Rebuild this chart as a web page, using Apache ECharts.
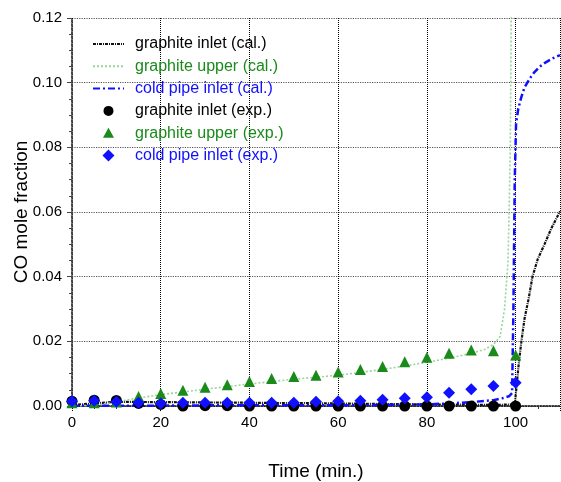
<!DOCTYPE html>
<html><head><meta charset="utf-8">
<script src="https://cdn.jsdelivr.net/npm/echarts@6/dist/echarts.min.js"></script>
<style>html,body{margin:0;padding:0;background:#fff}#c{width:561px;height:482px}</style>
</head><body><div id="c"></div>
<script>
// ---- data ----
const seriesNames = ['graphite inlet (cal.)','graphite upper (cal.)','cold pipe inlet (cal.)','graphite inlet (exp.)','graphite upper (exp.)','cold pipe inlet (exp.)'];
const xTicks = [0,20,40,60,80,100];
const yTicks = [0,0.02,0.04,0.06,0.08,0.10,0.12];

const inletCalX = [0,5,10,20,30,40,50,60,70,80,90,95,99.8,100.2,100.7,101.3,102,102.9,103.8,105,106.5,108,110];
const inletCalY = [0.0003,0.0008,0.0013,0.0012,0.0011,0.001,0.0009,0.0008,0.0006,0.0005,0.0004,0.0003,0.0005,0.006,0.013,0.02,0.027,0.033,0.04,0.0455,0.05,0.0548,0.0602];

const upperCalX = [0,5,8,10,15,20,30,40,50,60,70,80,85,90,93,95,96.5,97.5,98.3,98.8,99,110];
const upperCalY = [0,0.0002,0.0008,0.0013,0.0025,0.0035,0.0052,0.0068,0.0083,0.0095,0.0113,0.0135,0.0148,0.0163,0.0175,0.019,0.0215,0.03,0.045,0.08,0.1205,0.1205];

const pipeCalX = [0,10,20,30,40,50,60,70,80,85,90,95,97,98.5,99.2,99.5,99.8,100.1,100.6,101.3,102,103.2,104.2,105.4,106.8,108.3,110];
const pipeCalY = [0.0001,0.0001,0.0001,0.0002,0.0002,0.0002,0.0002,0.0003,0.0005,0.0008,0.0012,0.0018,0.0024,0.003,0.004,0.03,0.07,0.0875,0.092,0.0956,0.0985,0.1013,0.1032,0.1049,0.1063,0.1075,0.1085];

const expX = [0,5,10,15,20,25,30,35,40,45,50,55,60,65,70,75,80,85,90,95,100];
const inletExp = [0.0015,0.0018,0.0017,0.0008,0.0005,0,0.0001,0.0001,0,0,0,0,0,0,0,0,0,0,0,0,0];
const upperExp = [0.001,0.001,0.0012,0.0029,0.0039,0.0049,0.0058,0.0066,0.0076,0.0085,0.0091,0.0095,0.0105,0.0113,0.0122,0.0137,0.0151,0.0163,0.0173,0.0171,0.0158];
const pipeExp = [0.0015,0.0016,0.0013,0.001,0.0008,0.001,0.001,0.001,0.001,0.001,0.001,0.0013,0.0015,0.0016,0.0019,0.0024,0.0027,0.0041,0.0052,0.0062,0.0072];

// ---- build ----
const zip = (xs, ys) => xs.map((x, i) => [x, ys[i]]);
const GREEN = '#1a8a1a', BLUE = '#1010ff', LGREEN = '#9ad49a';
const font = 'Liberation Sans, Arial, sans-serif';
// legend marker icons inside a 31x14 box (tiny corner segments fix the box)
const box = ' M0,0 L0.01,0 M31,14 L31.01,14';
const icoCircle = 'path://M20.5,7 A5,5 0 1 1 10.5,7 A5,5 0 1 1 20.5,7 Z' + box;
const icoTri = 'path://M15.5,1.5 L21,11.5 L10,11.5 Z' + box;
const icoDia = 'path://M15.5,1 L21.5,7 L15.5,13 L9.5,7 Z' + box;
const hideSym = {color: 'rgba(0,0,0,0)', borderWidth: 0, opacity: 0};

const chart = echarts.init(document.getElementById('c'), null, {renderer: 'canvas'});
chart.setOption({
  animation: false,
  grid: {left: 72, right: 1, top: 18, bottom: 76, outerBoundsMode: 'none', containLabel: false},
  legend: {
    orient: 'vertical', left: 87, top: 31, itemWidth: 31, itemHeight: 14, itemGap: 6.3,
    textStyle: {fontFamily: font, fontSize: 16, padding: [0, 0, 0, 6]},
    data: [
      {name: seriesNames[0], textStyle: {color: '#000'}, itemStyle: hideSym},
      {name: seriesNames[1], textStyle: {color: GREEN}, itemStyle: hideSym},
      {name: seriesNames[2], textStyle: {color: BLUE}, itemStyle: hideSym},
      {name: seriesNames[3], textStyle: {color: '#000'}, icon: icoCircle},
      {name: seriesNames[4], textStyle: {color: GREEN}, icon: icoTri},
      {name: seriesNames[5], textStyle: {color: BLUE}, icon: icoDia}
    ]
  },
  xAxis: {
    type: 'value', min: 0, max: 110, interval: 20,
    name: 'Time (min.)', nameLocation: 'middle', nameGap: 56, nameMoveOverlap: false,
    nameTextStyle: {fontFamily: font, fontSize: 19, color: '#000'},
    axisLine: {show: true, onZero: false, lineStyle: {color: '#000', width: 1.5, type: 'dotted'}},
    axisTick: {show: true, length: 6, lineStyle: {color: '#000', type: 'dotted'}},
    minorTick: {show: true, splitNumber: 4, length: 3, lineStyle: {color: '#333'}},
    axisLabel: {fontFamily: font, fontSize: 15, color: '#000', margin: 9, showMaxLabel: false},
    splitLine: {show: true, lineStyle: {color: '#000', width: 1, type: 'dotted'}}
  },
  yAxis: {
    type: 'value', min: 0, max: 0.12, interval: 0.02,
    name: 'CO mole fraction', nameLocation: 'middle', nameGap: 41, nameMoveOverlap: false,
    nameTextStyle: {fontFamily: font, fontSize: 19, color: '#000'},
    axisLine: {show: true, lineStyle: {color: '#444', width: 2, type: 'dotted'}},
    axisTick: {show: true, length: 5, lineStyle: {color: '#444'}},
    minorTick: {show: true, splitNumber: 4, length: 3, lineStyle: {color: '#444'}},
    axisLabel: {fontFamily: font, fontSize: 15, color: '#000', margin: 10, formatter: v => v.toFixed(2)},
    splitLine: {show: true, lineStyle: {color: '#555', width: 1.2, type: 'dotted'}}
  },
  series: [
    {name: seriesNames[0], type: 'line', data: zip(inletCalX, inletCalY), showSymbol: false, symbol: 'none', clip: true,
     lineStyle: {color: '#111', width: 2.2, type: [3, 1, 1, 1]}, itemStyle: {color: '#111'}, z: 2},
    {name: seriesNames[1], type: 'line', data: zip(upperCalX, upperCalY), showSymbol: false, symbol: 'none', clip: true,
     lineStyle: {color: LGREEN, width: 1.6, type: [2, 2]}, itemStyle: {color: LGREEN}, z: 2},
    {name: seriesNames[2], type: 'line', data: zip(pipeCalX, pipeCalY), showSymbol: false, symbol: 'none', clip: true,
     lineStyle: {color: BLUE, width: 2.5, type: [7, 3, 2, 3]}, itemStyle: {color: BLUE}, z: 2},
    {name: seriesNames[3], type: 'scatter', data: zip(expX, inletExp), symbol: 'circle', symbolSize: 11,
     itemStyle: {color: '#000', opacity: 1}, z: 3},
    {name: seriesNames[4], type: 'scatter', data: zip(expX, upperExp), symbol: 'triangle', symbolSize: 11,
     itemStyle: {color: GREEN, opacity: 1}, z: 3},
    {name: seriesNames[5], type: 'scatter', data: zip(expX, pipeExp), symbol: 'diamond', symbolSize: 12,
     itemStyle: {color: BLUE, opacity: 1}, z: 4}
  ]
});
</script></body></html>
